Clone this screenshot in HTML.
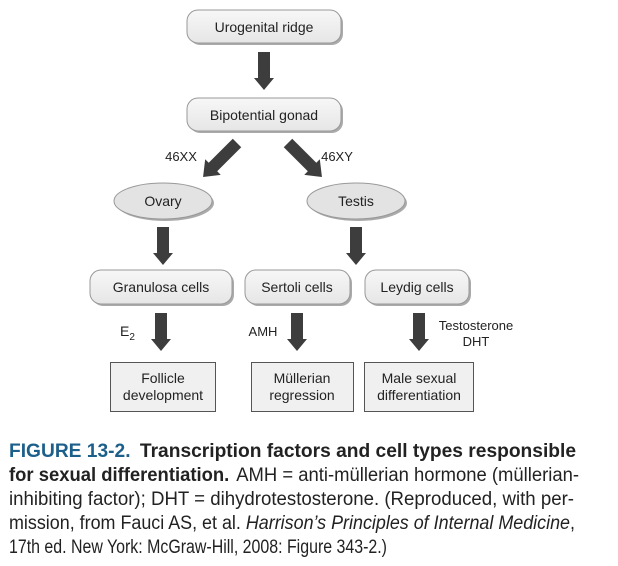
<!DOCTYPE html>
<html><head><meta charset="utf-8"><style>
body{margin:0;background:#fff;}
svg{display:block;font-family:"Liberation Sans",sans-serif;}
</style></head><body>
<svg width="618" height="566" viewBox="0 0 618 566">
<defs>
<linearGradient id="g" x1="0" y1="0" x2="0" y2="1"><stop offset="0" stop-color="#f7f7f7"/><stop offset="1" stop-color="#e6e6e6"/></linearGradient>
<g id="arr"><path d="M-6,0 H6 V26 H10 L0,38 L-10,26 H-6 Z" fill="#3d3d3d"/></g>
<g id="darr"><path d="M-6,0 H6 V34 H11 L0,48 L-11,34 H-6 Z" fill="#3d3d3d"/></g>
</defs>
<g stroke="#999" stroke-width="1">
<rect x="189" y="12" width="154" height="33" rx="11" fill="#aaa" stroke="none"/>
<rect x="187" y="10" width="154" height="33" rx="11" fill="url(#g)"/>
<rect x="189" y="100" width="154" height="33" rx="11" fill="#aaa" stroke="none"/>
<rect x="187" y="98" width="154" height="33" rx="11" fill="url(#g)"/>
<ellipse cx="165" cy="203" rx="49" ry="18" fill="#aaa" stroke="none"/>
<ellipse cx="163" cy="201" rx="49" ry="18" fill="#e3e3e3"/>
<ellipse cx="358" cy="203" rx="49" ry="18" fill="#aaa" stroke="none"/>
<ellipse cx="356" cy="201" rx="49" ry="18" fill="#e3e3e3"/>
<rect x="92" y="272" width="142" height="34" rx="11" fill="#aaa" stroke="none"/>
<rect x="90" y="270" width="142" height="34" rx="11" fill="url(#g)"/>
<rect x="247" y="272" width="105" height="34" rx="11" fill="#aaa" stroke="none"/>
<rect x="245" y="270" width="105" height="34" rx="11" fill="url(#g)"/>
<rect x="367" y="272" width="104" height="34" rx="11" fill="#aaa" stroke="none"/>
<rect x="365" y="270" width="104" height="34" rx="11" fill="url(#g)"/>
</g>
<g stroke="#555" stroke-width="1" fill="#f0f0f0">
<rect x="110.5" y="362.5" width="105" height="49"/>
<rect x="251.5" y="362.5" width="102" height="49"/>
<rect x="364.5" y="362.5" width="109" height="49"/>
</g>
<use href="#arr" transform="translate(264,52)"/>
<use href="#darr" transform="translate(237,143) rotate(45)"/>
<use href="#darr" transform="translate(288,143) rotate(-45)"/>
<use href="#arr" transform="translate(163,227)"/>
<use href="#arr" transform="translate(356,227)"/>
<use href="#arr" transform="translate(161,313)"/>
<use href="#arr" transform="translate(297,313)"/>
<use href="#arr" transform="translate(419,313)"/>
<g font-size="14" fill="#222" text-anchor="middle">
<text x="264" y="32">Urogenital ridge</text>
<text x="264" y="120">Bipotential gonad</text>
<text x="163" y="206">Ovary</text>
<text x="356" y="206">Testis</text>
<text x="161" y="292">Granulosa cells</text>
<text x="297" y="292">Sertoli cells</text>
<text x="417" y="292">Leydig cells</text>
<text x="163" y="383">Follicle</text>
<text x="163" y="400">development</text>
<text x="302" y="383">Müllerian</text>
<text x="302" y="400">regression</text>
<text x="419" y="383">Male sexual</text>
<text x="419" y="400">differentiation</text>
<text x="181" y="161" font-size="13">46XX</text>
<text x="337" y="161" font-size="13">46XY</text>
<text x="263" y="336" font-size="13">AMH</text>
<text x="476" y="330" font-size="13">Testosterone</text>
<text x="476" y="346" font-size="13">DHT</text>
</g>
<text x="120" y="336" font-size="14" fill="#222">E<tspan font-size="10" dy="4">2</tspan></text>
<g font-size="19" fill="#222">
<text x="9" y="457" textLength="567" lengthAdjust="spacingAndGlyphs"><tspan fill="#1c5f8a" font-weight="bold">FIGURE 13-2.</tspan> <tspan font-weight="bold" dx="4">Transcription factors and cell types responsible</tspan></text>
<text x="9" y="481" textLength="570" lengthAdjust="spacingAndGlyphs"><tspan font-weight="bold">for sexual differentiation.</tspan> <tspan dx="3">AMH = anti-müllerian hormone (müllerian-</tspan></text>
<text x="9" y="505" textLength="565" lengthAdjust="spacingAndGlyphs">inhibiting factor); DHT = dihydrotestosterone. (Reproduced, with per-</text>
<text x="9" y="529" textLength="566" lengthAdjust="spacingAndGlyphs">mission, from Fauci AS, et al. <tspan font-style="italic">Harrison’s Principles of Internal Medicine</tspan>,</text>
<text x="9" y="553" textLength="378" lengthAdjust="spacingAndGlyphs">17th ed. New York: McGraw-Hill, 2008: Figure 343-2.)</text>
</g>
</svg>
</body></html>
